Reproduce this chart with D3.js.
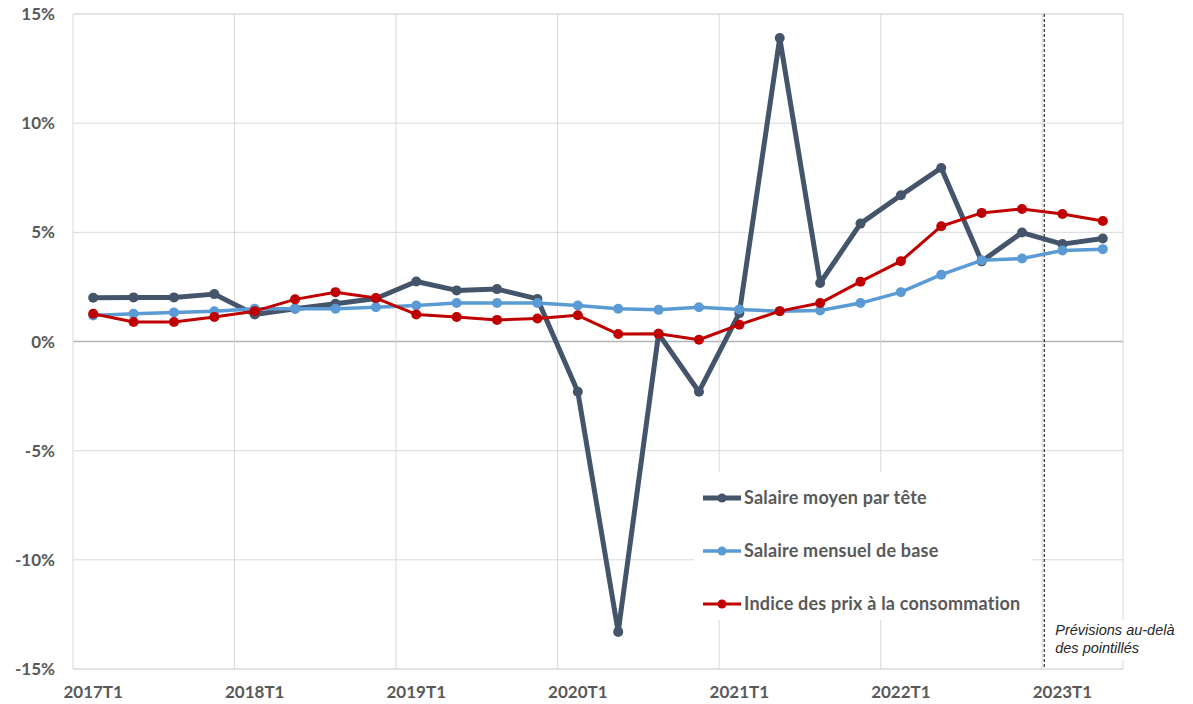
<!DOCTYPE html>
<html>
<head>
<meta charset="utf-8">
<script src="https://cdn.jsdelivr.net/npm/d3@7"></script>
<style>
  body { margin: 0; background: #fff; }
  svg { display: block; }
</style>
</head>
<body>
<script>
// data
const quarters = ['2017T1','2017T2','2017T3','2017T4','2018T1','2018T2','2018T3','2018T4',
  '2019T1','2019T2','2019T3','2019T4','2020T1','2020T2','2020T3','2020T4',
  '2021T1','2021T2','2021T3','2021T4','2022T1','2022T2','2022T3','2022T4','2023T1','2023T2'];
const salaireMoyen = [2.0, 2.02, 2.02, 2.17, 1.24, 1.5, 1.73, 1.97, 2.75, 2.34, 2.4, 1.95,
  -2.3, -13.3, 0.35, -2.3, 1.3, 13.9, 2.68, 5.4, 6.7, 7.95, 3.67, 4.99, 4.46, 4.72];
const salaireBase = [1.19, 1.27, 1.33, 1.38, 1.5, 1.5, 1.5, 1.57, 1.65, 1.76, 1.76, 1.76,
  1.65, 1.5, 1.45, 1.57, 1.47, 1.39, 1.42, 1.76, 2.26, 3.06, 3.72, 3.8, 4.17, 4.23];
const ipc = [1.27, 0.89, 0.89, 1.12, 1.39, 1.93, 2.26, 1.99, 1.24, 1.12, 0.99, 1.05,
  1.2, 0.34, 0.35, 0.08, 0.77, 1.39, 1.76, 2.74, 3.68, 5.28, 5.89, 6.07, 5.84, 5.52];
const yTicks = [-15, -10, -5, 0, 5, 10, 15];
const xTickLabels = ['2017T1','2018T1','2019T1','2020T1','2021T1','2022T1','2023T1'];
const forecastStart = '2023T1';
const seriesNames = ['Salaire moyen par tête', 'Salaire mensuel de base', 'Indice des prix à la consommation'];
const noteLines = ['Prévisions au-delà', 'des pointillés'];

const width = 1193, height = 704;
const margin = { top: 14, right: 70, bottom: 35, left: 73 };
const font = 'Lato, "Open Sans", sans-serif';
const textGrey = '#595959';

const series = [
  { name: seriesNames[0], values: salaireMoyen, color: '#44546a', width: 5, r: 5 },
  { name: seriesNames[1], values: salaireBase, color: '#5b9bd5', width: 3.5, r: 5 },
  { name: seriesNames[2], values: ipc, color: '#c00000', width: 3, r: 5 }
];

const svg = d3.select('body').append('svg')
  .attr('width', width)
  .attr('height', height);

const x = d3.scaleBand()
  .domain(quarters)
  .range([margin.left, width - margin.right]);
const cx = d => x(d) + x.bandwidth() / 2;

const y = d3.scaleLinear()
  .domain([-15, 15])
  .range([height - margin.bottom, margin.top]);

// horizontal gridlines
svg.append('g')
  .selectAll('line')
  .data(yTicks)
  .join('line')
  .attr('x1', margin.left)
  .attr('x2', width - margin.right)
  .attr('y1', d => y(d))
  .attr('y2', d => y(d))
  .attr('stroke', d => d === 0 ? '#b4b4b4' : '#d9d9d9')
  .attr('stroke-width', d => d === 0 ? 1.5 : 1);

// vertical gridlines between years
const yearBounds = quarters.filter((q, i) => i > 0 && q.endsWith('T1'));
svg.append('g')
  .selectAll('line')
  .data(yearBounds)
  .join('line')
  .attr('x1', d => x(d))
  .attr('x2', d => x(d))
  .attr('y1', y(15))
  .attr('y2', y(-15))
  .attr('stroke', '#d9d9d9')
  .attr('stroke-width', 1);

// plot frame
svg.append('rect')
  .attr('x', margin.left)
  .attr('y', y(15))
  .attr('width', width - margin.right - margin.left)
  .attr('height', y(-15) - y(15))
  .attr('fill', 'none')
  .attr('stroke', '#d9d9d9')
  .attr('stroke-width', 1);

// y axis labels
svg.append('g')
  .selectAll('text')
  .data(yTicks)
  .join('text')
  .attr('x', 55)
  .attr('y', d => y(d))
  .attr('dy', '0.36em')
  .attr('text-anchor', 'end')
  .attr('font-family', font)
  .attr('font-weight', 'bold')
  .attr('font-size', 17)
  .attr('fill', textGrey)
  .text(d => d + '%');

// x axis labels
svg.append('g')
  .selectAll('text')
  .data(xTickLabels)
  .join('text')
  .attr('x', d => cx(d))
  .attr('y', 698)
  .attr('text-anchor', 'middle')
  .attr('font-family', font)
  .attr('font-weight', 'bold')
  .attr('font-size', 17)
  .attr('fill', textGrey)
  .text(d => d);

// legend box (white, hides the gridlines behind)
const legend = svg.append('g');
legend.append('rect')
  .attr('x', 694)
  .attr('y', 472)
  .attr('width', 338)
  .attr('height', 148)
  .attr('fill', '#fff');

// forecast dashed line
svg.append('line')
  .attr('x1', x(forecastStart) + 2)
  .attr('x2', x(forecastStart) + 2)
  .attr('y1', y(15))
  .attr('y2', y(-15))
  .attr('stroke', '#000')
  .attr('stroke-width', 1)
  .attr('stroke-dasharray', '3,2');

// lines and markers
const line = d3.line()
  .x((d, i) => cx(quarters[i]))
  .y(d => y(d));

series.forEach(s => {
  const g = svg.append('g');
  g.append('path')
    .datum(s.values)
    .attr('d', line)
    .attr('fill', 'none')
    .attr('stroke', s.color)
    .attr('stroke-width', s.width)
    .attr('stroke-linejoin', 'round');
  g.selectAll('circle')
    .data(s.values)
    .join('circle')
    .attr('cx', (d, i) => cx(quarters[i]))
    .attr('cy', d => y(d))
    .attr('r', s.r)
    .attr('fill', s.color);
});

// legend entries
series.forEach((s, i) => {
  const ly = 498 + i * 53;
  legend.append('line')
    .attr('x1', 703).attr('x2', 741)
    .attr('y1', ly).attr('y2', ly)
    .attr('stroke', s.color)
    .attr('stroke-width', s.width);
  legend.append('circle')
    .attr('cx', 722).attr('cy', ly)
    .attr('r', 4.5)
    .attr('fill', s.color);
  legend.append('text')
    .attr('x', 744)
    .attr('y', ly)
    .attr('dy', '0.36em')
    .attr('font-family', font)
    .attr('font-weight', 'bold')
    .attr('font-size', 18)
    .attr('letter-spacing', 0.2)
    .attr('fill', textGrey)
    .text(s.name);
});

// note about forecasts
const note = svg.append('g');
note.append('rect')
  .attr('x', x(forecastStart) + 4)
  .attr('y', 620)
  .attr('width', 100)
  .attr('height', 40)
  .attr('fill', '#fff');
note.selectAll('text')
  .data(noteLines)
  .join('text')
  .attr('x', x(forecastStart) + 13)
  .attr('y', (d, i) => 635 + i * 18)
  .attr('font-family', '"Liberation Sans", Arial, sans-serif')
  .attr('font-style', 'italic')
  .attr('font-size', 14.5)
  .attr('fill', '#262626')
  .text(d => d);
</script>
</body>
</html>
